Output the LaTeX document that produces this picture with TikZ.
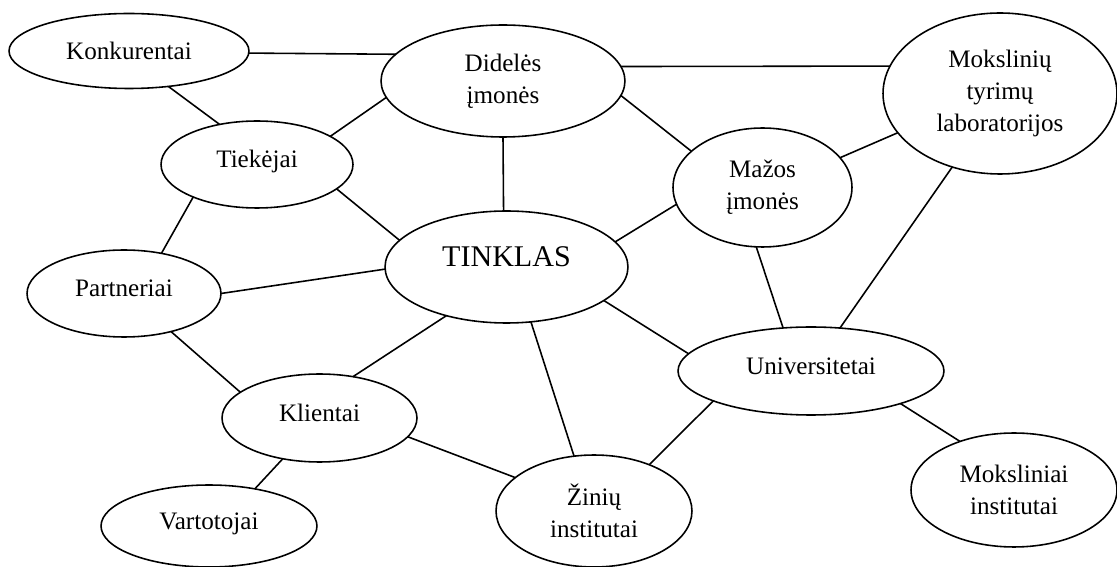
\documentclass[tikz,border=0pt]{standalone}
\usepackage{fontspec}
\setmainfont{Liberation Serif}
\usetikzlibrary{shapes.geometric}
\begin{document}
\begin{tikzpicture}[x=0.02cm,y=-0.02cm,
  ell/.style={ellipse,draw,line width=0.9pt,inner sep=0pt,outer sep=0pt,align=center,
    font=\fontsize{14.3pt}{18pt}\selectfont},
  oneline/.style={text height=10pt,text depth=6.2pt},
  link/.style={line width=0.9pt}]
\fill[white] (0,0) rectangle (1117,567);
\useasboundingbox (0,0) rectangle (1117,567);
% nodes
\node[ell,minimum width=4.8cm,minimum height=1.5cm] (konk) at (129,51) {Konkurentai};
\node[ell,oneline,minimum width=3.84cm,minimum height=1.74cm] (tiek) at (257,164.5) {Tiekėjai};
\node[ell,minimum width=4.88cm,minimum height=2.24cm] (did) at (503,81) {Didelės\\įmonės};
\node[ell,minimum width=4.68cm,minimum height=3.22cm] (mtl) at (1000,93.5) {Mokslinių\\tyrimų\\laboratorijos};
\node[ell,minimum width=3.58cm,minimum height=2.38cm] (maz) at (762.5,187.5) {Mažos\\įmonės};
\node[ell,oneline,minimum width=3.88cm,minimum height=1.74cm] (part) at (124,293.5) {Partneriai};
\node[ell,minimum width=4.86cm,minimum height=2.24cm,font=\fontsize{17.1pt}{20pt}\selectfont,
      text height=11.2pt,text depth=11.4pt] (tink) at (506.5,267) {TINKLAS};
\node[ell,oneline,minimum width=5.32cm,minimum height=1.76cm] (univ) at (811,371) {Universitetai};
\node[ell,oneline,minimum width=3.9cm,minimum height=1.76cm] (klie) at (319.5,418) {Klientai};
\node[ell,oneline,minimum width=4.32cm,minimum height=1.64cm] (vart) at (209,526) {Vartotojai};
\node[ell,minimum width=3.92cm,minimum height=2.24cm] (zin) at (594,511) {Žinių\\institutai};
\node[ell,minimum width=4.12cm,minimum height=2.28cm] (mins) at (1014,490) {Moksliniai\\institutai};
% connectors
\draw[link] (konk.-1.9) -- (did.166.7);
\draw[link] (konk.-42.1) -- (tiek.133.2);
\draw[link] (tiek.21.2) -- (did.188.2);
\draw[link] (tiek.-17.1) -- (tink.166);
\draw[link] (tiek.207.6) -- (part.47.5);
\draw[link] (part.0.3) -- (tink.181.9);
\draw[link] (part.-39.5) -- (klie.162.5);
\draw[link] (klie.51.4) -- (tink.219.4);
\draw[link] (klie.228.2) -- (vart.39.7);
\draw[link] (klie.-12.7) -- (zin.157.3);
\draw[link] (tink.-66.9) -- (zin.110.6);
\draw[link] (did.-90) -- (tink.93.6);
\draw[link] (tink.13.7) -- (maz.191.6);
\draw[link] (tink.-19) -- (univ.172.8);
\draw[link] (did.-7.8) -- (maz.153.9);
\draw[link] (did.7.2) -- (mtl.166);
\draw[link] (maz.21) -- (mtl.201);
\draw[link] (maz.-96.2) -- (univ.123.1);
\draw[link] (mtl.237.2) -- (univ.56);
\draw[link] (univ.197.9) -- (zin.40);
\draw[link] (univ.-20.2) -- (mins.138.4);
\end{tikzpicture}
\end{document}
